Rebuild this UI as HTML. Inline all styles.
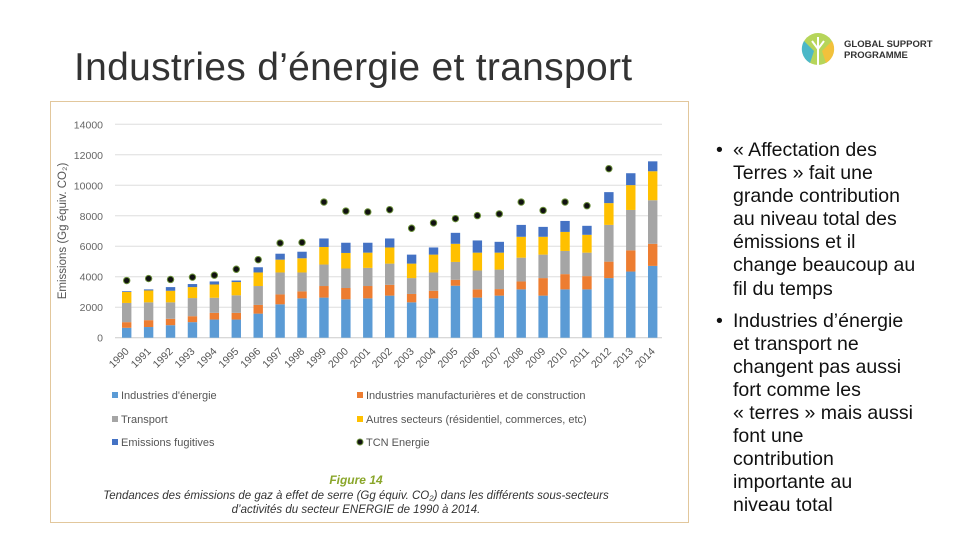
<!DOCTYPE html>
<html><head><meta charset="utf-8">
<style>
html,body{margin:0;padding:0;background:#fff;}
body{width:960px;height:540px;position:relative;overflow:hidden;font-family:"Liberation Sans",sans-serif;}
#title{position:absolute;left:74px;top:46px;font-size:39px;color:#333;font-weight:normal;margin:0;letter-spacing:0.3px;}
#frame{position:absolute;left:50px;top:101px;width:637px;height:420px;border:1.5px solid #e2c79c;background:#fff;}
#bullets{position:absolute;left:716px;top:139px;width:240px;font-size:19.5px;line-height:23.1px;color:#111;white-space:nowrap;}
.b{position:relative;padding-left:17px;margin-bottom:9px;}
.b:before{content:"•";position:absolute;left:0;top:0;}
#logo{position:absolute;left:800px;top:31px;}
</style></head><body>
<h1 id="title">Industries d’énergie et transport</h1>
<div id="logo">
<svg width="140" height="36">
<circle cx="18" cy="18" r="16" fill="#b6d55a"/>
<path d="M4 10 A16 16 0 0 0 10 32 L14 20 Z" fill="#4bb8c8"/>
<path d="M32 10 A16 16 0 0 1 26 32 L22 20 Z" fill="#f2c13c"/>
<path d="M18 6 L18 34" stroke="#fff" stroke-width="2"/>
<path d="M12 10 L18 18 L24 10" stroke="#fff" stroke-width="2" fill="none"/>
<text x="44" y="16" font-size="9.5" font-weight="bold" fill="#333" font-family="Liberation Sans">GLOBAL SUPPORT</text>
<text x="44" y="27" font-size="9.5" font-weight="bold" fill="#333" font-family="Liberation Sans">PROGRAMME</text>
</svg></div>
<div id="frame"></div>
<svg id="chart" width="960" height="540" style="position:absolute;left:0;top:0"></svg>
<div id="bullets">
<div class="b">« Affectation des<br>Terres » fait une<br>grande contribution<br>au niveau total des<br>émissions et il<br>change beaucoup au<br>fil du temps</div>
<div class="b">Industries d’énergie<br>et transport ne<br>changent pas aussi<br>fort comme les<br>« terres » mais aussi<br>font une<br>contribution<br>importante au<br>niveau total</div>
</div>
<script>
const years=[1990,1991,1992,1993,1994,1995,1996,1997,1998,1999,2000,2001,2002,2003,2004,2005,2006,2007,2008,2009,2010,2011,2012,2013,2014];
const energie=[650,700,820,1020,1190,1190,1580,2190,2580,2630,2520,2580,2760,2320,2580,3410,2630,2760,3170,2760,3170,3170,3910,4340,4710];
const manuf=[370,450,420,390,440,440,570,650,460,760,740,810,710,550,500,390,540,430,520,1150,1000,870,1080,1390,1450];
const transport=[1260,1170,1080,1190,990,1150,1240,1440,1240,1410,1280,1190,1390,1040,1200,1170,1240,1280,1560,1540,1520,1540,2410,2650,2860];
const autres=[720,780,760,720,870,870,890,840,930,1150,1020,1000,1060,950,1170,1190,1170,1110,1370,1170,1250,1170,1430,1630,1900];
const fugitives=[50,70,240,200,200,100,340,390,430,560,670,650,590,590,470,720,800,710,780,650,720,590,720,780,650];
const tcn=[3750,3880,3820,3970,4100,4490,5120,6210,6250,8900,8310,8250,8400,7180,7530,7810,8010,8120,8900,8350,8900,8660,11090,null,null];
const yTicks=[0,2000,4000,6000,8000,10000,12000,14000];
const seriesNames=["Industries d'énergie","Industries manufacturières et de construction","Transport","Autres secteurs (résidentiel, commerces, etc)","Emissions fugitives","TCN Energie"];

const NS="http://www.w3.org/2000/svg";
const svg=document.getElementById('chart');
const x0=126.7,x1=652.7,yBase=337.7,yTop=124.3,yMax=14000;
function X(i){return x0+(x1-x0)*i/(years.length-1);}
function Y(v){return yBase-(yBase-yTop)*v/yMax;}
function mk(tag,attrs){const e=document.createElementNS(NS,tag);for(const k in attrs)e.setAttribute(k,attrs[k]);svg.appendChild(e);return e;}

yTicks.forEach(t=>{
  const g=mk('line',{x1:115,x2:662,y1:Y(t),y2:Y(t),stroke:t===0?'#ccc':'#ddd','stroke-width':1});
  
  
  const tx=mk('text',{x:103,y:Y(t)+4,'text-anchor':'end','font-size':10.5,fill:'#666','font-family':'Liberation Sans'});
  tx.textContent=t;
  
  
});
const yt=mk('text',{transform:'translate(66,231) rotate(-90)','text-anchor':'middle','font-size':11.5,fill:'#555','font-family':'Liberation Sans'});
yt.textContent='Emissions (Gg équiv. CO₂)';



const stacks=[energie,manuf,transport,autres,fugitives];
const colors=['#5b9bd5','#ed7d31','#a5a5a5','#ffc000','#4472c4'];
const bw=9.4;
years.forEach((yr,i)=>{
  let cum=0;
  stacks.forEach((s,k)=>{
    const v=s[i];
    const r=mk('rect',{x:X(i)-bw/2,y:Y(cum+v),width:bw,height:Y(cum)-Y(cum+v),fill:colors[k]});
    
    
    cum+=v;
  });
  if(tcn[i]!==null){
    const c=mk('circle',{cx:X(i),cy:Y(tcn[i]),r:3.2,fill:'#111',stroke:'#6a8f3a','stroke-width':1});
    
    
  }
  const lx=X(i)+3, ly=352;
  const t=mk('text',{x:lx,y:ly,transform:`rotate(-45 ${lx} ${ly})`,'text-anchor':'end','font-size':10.5,fill:'#555','font-family':'Liberation Sans'});
  t.textContent=yr;
  
  
});

const legPos=[[112,396],[357,396],[112,420],[357,420],[112,443],[357,443]];
seriesNames.forEach((n,k)=>{
  const [lx,ly]=legPos[k];
  let m;
  if(k<5){m=mk('rect',{x:lx,y:ly-4,width:6,height:6,fill:colors[k]});}
  else{m=mk('circle',{cx:lx+3,cy:ly-1,r:3,fill:'#111',stroke:'#6a8f3a','stroke-width':1});}
  
  
  const t=mk('text',{x:lx+9,y:ly+3,'font-size':11,fill:'#555','font-family':'Liberation Sans'});
  t.textContent=n;
  
  
});

const f=mk('text',{x:356,y:484,'text-anchor':'middle','font-size':12,'font-style':'italic','font-weight':'bold',fill:'#8aa62a','font-family':'Liberation Sans'});
f.textContent='Figure 14';


const c1=mk('text',{x:356,y:499,'text-anchor':'middle','font-size':11.5,'font-style':'italic',fill:'#333','font-family':'Liberation Sans'});
c1.textContent='Tendances des émissions de gaz à effet de serre (Gg équiv. CO₂) dans les différents sous-secteurs';


const c2=mk('text',{x:356,y:513,'text-anchor':'middle','font-size':11.5,'font-style':'italic',fill:'#333','font-family':'Liberation Sans'});
c2.textContent='d’activités du secteur ENERGIE de 1990 à 2014.';


</script>
</body></html>
